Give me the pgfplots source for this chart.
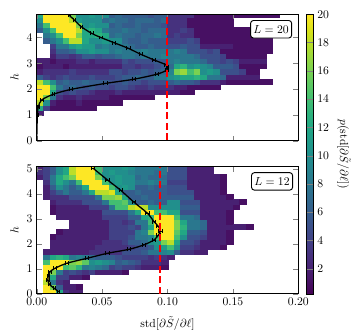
\documentclass[border=0pt]{standalone}
\usepackage{pgfplots}
\usepackage{pgfplotstable}
\pgfplotsset{compat=1.18}
\pgfdeclareplotmark{cellT}{\pgfpathrectangle{\pgfpoint{-2.85pt}{-2.25pt}}{\pgfpoint{5.7pt}{4.5pt}}\pgfusepathqfillstroke}
\pgfdeclareplotmark{cellB}{\pgfpathrectangle{\pgfpoint{-2.85pt}{-2.18pt}}{\pgfpoint{5.7pt}{4.36pt}}\pgfusepathqfillstroke}

% L = 20 histogram: h, then counts in x-bins of width 0.005 (x = 0 ... 0.185)
\pgfplotstableread[header=false]{
1.1 2 0 0 0 0 0 0 0 0 0 0 0 0 0 0 0 0 0 0 0 0 0 0 0 0 0 0 0 0 0 0 0 0 0 0 0 0
1.3 12 4 1 1 1 1 1 1 1 0 0 0 0 0 0 0 0 0 0 0 0 0 0 0 0 0 0 0 0 0 0 0 0 0 0 0 0
1.5 18 10 2 1 1 1 2 1 1 1 1 1 1 0 0 0 0 0 0 0 0 0 0 0 0 0 0 0 0 0 0 0 0 0 0 0 0
1.7 20 16 8 3 2 2 3 2 2 2 2 1 1 1 1 1 1 1 0 0 0 0 0 0 0 0 0 0 0 0 0 0 0 0 0 0 0
1.9 20 20 12 5 4 5 4 4 3 2 2 2 3 2 2 2 2 2 2 2 2 2 1 1 0 0 0 0 0 0 0 0 0 0 0 0 0
2.1 20 20 14 8 6 7 6 5 6 5 5 4 5 5 4 3 3 4 3 3 3 2 2 1 1 1 1 1 0 0 0 0 0 0 0 0 0
2.3 18 14 10 6 7 6 6 7 6 6 6 5 5 6 5 5 4 5 5 5 6 7 6 6 5 3 3 3 2 1 1 1 1 1 1 1 0
2.5 6 4 3 4 5 4 4 4 5 4 4 4 5 6 6 7 6 6 8 8 10 11 12 12 13 12 8 8 7 2 2 2 2 2 0 0 0
2.7 2 3 3 3 3 4 3 3 3 3 3 5 5 4 5 5 6 5 6 7 9 16 17 14 16 10 11 10 5 5 5 4 1 1 0 0 0
2.9 1 2 2 2 1 2 2 2 2 2 2 2 2 4 4 3 4 4 5 6 7 12 13 10 11 10 9 6 6 6 5 1 1 1 1 0 0
3.1 2 2 1 2 2 2 3 3 2 3 3 3 3 5 4 5 5 5 6 6 8 9 8 8 8 7 5 5 4 5 4 2 2 2 2 0 0
3.3 0 0 2 4 4 3 4 6 6 5 6 6 7 8 8 7 8 8 8 9 8 8 8 8 7 5 5 5 4 1 1 1 1 1 1 0 0
3.5 0 0 3 6 6 7 10 10 11 10 10 8 9 8 8 8 9 8 8 8 8 9 8 5 5 5 4 5 1 1 1 1 1 1 1 1 0
3.7 0 0 4 8 8 11 12 11 11 8 9 8 8 8 7 6 6 7 6 6 5 5 6 5 5 2 2 2 2 2 1 1 1 1 1 1 0
3.9 0 6 8 10 14 18 18 12 10 10 11 10 10 7 6 6 7 6 6 6 4 4 4 5 4 1 1 1 1 1 1 1 1 1 1 1 0
4.1 0 8 10 14 20 20 16 12 12 13 12 7 8 7 7 6 7 7 8 7 3 4 3 3 1 1 1 1 1 1 1 1 1 1 0 0 0
4.3 6 10 14 20 20 20 18 12 13 12 8 7 7 8 7 7 6 7 7 7 3 3 4 3 1 1 1 1 1 1 1 1 1 1 0 0 0
4.5 8 14 20 20 20 20 16 10 11 10 10 6 7 6 6 7 6 6 6 5 3 3 3 1 1 1 1 1 1 1 0 0 0 0 0 0 0
4.7 10 20 20 20 20 18 11 10 10 10 7 8 7 7 6 7 7 7 6 7 3 3 3 1 1 1 1 1 1 1 0 0 0 0 0 0 0
4.9 12 20 20 20 20 16 10 10 11 10 10 6 7 6 6 6 6 5 6 6 3 3 3 3 1 1 1 1 1 1 1 1 1 1 1 1 1
}\toptab

% L = 12 histogram
\pgfplotstableread[header=false]{
0.1 0 20 20 12 3 2 2 0 0 0 0 0 0 0 0 0 0 0 0 0 0 0 0 0 0 0 0 0 0 0 0 0 0 0 0 0 0
0.3 0 20 16 6 2 2 1 0 0 0 0 0 0 0 0 0 0 0 0 0 0 0 0 0 0 0 0 0 0 0 0 0 0 0 0 0 0
0.5 0 18 8 3 2 0 0 0 0 0 0 0 0 0 0 0 0 0 0 0 0 0 0 0 0 0 0 0 0 0 0 0 0 0 0 0 0
0.7 0 20 12 4 4 2 2 1 0 0 0 0 0 0 0 0 0 0 0 0 0 0 0 0 0 0 0 0 0 0 0 0 0 0 0 0 0
0.9 0 20 16 8 4 5 4 3 4 2 2 2 2 1 0 0 0 0 0 0 0 0 0 0 0 0 0 0 0 0 0 0 0 0 0 0 0
1.1 0 20 20 20 14 15 13 8 9 8 7 4 5 4 4 3 2 2 2 1 0 0 0 0 0 0 0 0 0 0 0 0 0 0 0 0 0
1.3 0 14 20 20 20 16 17 15 10 11 10 9 6 7 6 5 3 3 3 2 0 0 0 0 0 0 0 0 0 0 0 0 0 0 0 0 0
1.5 0 8 12 13 12 8 9 8 7 6 6 6 5 4 4 4 4 3 4 3 2 0 0 0 0 0 0 0 0 0 0 0 0 0 0 0 0
1.7 0 2 2 2 2 2 2 2 3 3 3 3 3 5 5 5 6 8 8 9 10 6 3 3 2 2 0 0 0 0 0 0 0 0 0 0 0
1.9 0 0 2 2 2 2 2 2 2 3 3 3 3 3 4 5 5 6 10 11 14 10 4 4 3 2 2 2 1 0 0 0 0 0 0 0 0
2.1 0 0 2 2 2 2 2 2 2 2 3 3 3 4 6 6 7 10 11 16 18 12 5 5 4 2 2 2 2 1 0 0 0 0 0 0 0
2.3 0 0 1 2 2 2 2 2 2 2 2 4 4 4 5 8 8 9 14 20 20 14 10 5 5 4 2 2 2 1 0 0 0 0 0 0 0
2.5 0 0 0 1 2 2 2 2 2 2 2 4 4 4 4 8 9 16 20 20 20 15 12 6 6 5 2 2 2 1 0 0 0 0 0 0 0
2.7 0 0 0 0 0 2 2 2 2 2 2 4 4 4 5 4 8 12 20 20 20 16 13 8 8 7 2 2 2 2 2 2 1 0 0 0 0
2.9 0 0 0 0 0 2 2 2 2 2 2 4 4 3 4 8 8 14 20 20 20 16 12 8 8 7 2 2 2 1 0 0 0 0 0 0 0
3.1 0 0 0 2 2 2 2 2 2 2 4 4 4 4 6 6 12 13 20 20 20 14 8 8 7 2 2 2 2 1 0 0 0 0 0 0 0
3.3 0 0 1 2 2 2 2 2 2 2 5 5 5 5 8 12 20 20 14 14 12 12 5 5 5 2 2 2 2 1 0 0 0 0 0 0 0
3.5 0 0 1 2 2 2 2 2 4 4 4 8 14 14 18 19 18 10 10 10 10 10 6 6 6 2 2 2 2 2 1 0 0 0 0 0 0
3.7 0 0 2 3 3 3 3 5 5 5 8 14 14 15 10 6 6 7 6 6 10 10 5 5 5 2 2 2 2 2 2 1 0 0 0 0 0
3.9 0 2 3 3 3 5 5 5 5 8 16 16 17 12 6 6 7 6 6 6 6 6 6 6 2 2 2 2 2 1 0 0 0 0 0 0 0
4.1 0 2 4 6 8 6 6 8 12 18 18 19 12 6 6 7 6 6 6 6 5 5 5 5 2 2 2 2 1 0 0 0 0 0 0 0 0
4.3 0 2 6 10 8 6 8 12 20 20 20 14 10 11 10 6 6 7 6 6 5 5 5 2 2 2 2 2 1 0 0 0 0 0 0 0 0
4.5 0 3 8 12 10 8 14 20 20 20 14 10 11 10 10 8 8 9 8 8 4 4 4 2 2 2 2 2 1 0 0 0 0 0 0 0 0
4.7 2 4 8 12 14 16 20 20 20 16 10 10 11 10 10 7 8 7 7 7 5 5 5 2 2 2 2 2 1 0 0 0 0 0 0 0 0
4.9 3 4 6 10 12 18 20 20 20 14 10 11 10 10 9 8 8 8 7 8 5 5 5 2 2 2 2 0 0 0 0 0 0 0 0 0 0
5.1 2 4 6 10 12 18 20 20 20 14 10 10 10 11 10 8 8 8 8 8 5 5 5 2 2 2 2 0 0 0 0 0 0 0 0 0 0
}\bottab

\pgfplotsset{
  baseaxis/.style={scale only axis, width=223.7pt, xmin=0, xmax=0.2,
    colormap/viridis, point meta min=0.2, point meta max=20},
  cellaxis/.style={baseaxis, hide axis, clip marker paths=true},
  mainaxis/.style={baseaxis, xtick={0,0.05,0.1,0.15,0.2},
    tick align=inside, tick pos=both, axis line style={line width=0.7pt}},
  cellplot/.style={scatter, only marks, point meta=explicit,
    scatter/use mapped color={draw=mapped color, fill=mapped color},
    mark options={line width=0.15pt}},
  curve/.style={black, line width=1.1pt, smooth, mark=none,
    error bars/.cd, x dir=both, x explicit, error mark=|,
    error bar style={line width=0.6pt},
    error mark options={line width=0.6pt, mark size=1.7pt}},
}

\begin{document}
\begin{tikzpicture}
\path[use as bounding box] (0,0) rectangle (302.7pt,-287.3pt);

% ---------- top panel (L = 20) ----------
\begin{axis}[cellaxis, at={(31.4pt,-12.2pt)}, anchor=north west,
  height=108.1pt, ymin=0, ymax=4.9]
\pgfplotsinvokeforeach{1,...,37}{
  \addplot[cellplot, mark=cellT]
    table[x expr={0.005*#1-0.0025},
          y expr={\thisrowno{#1}>0.5 ? \thisrowno{0} : nan},
          meta index=#1]{\toptab};
}
\end{axis}
\begin{axis}[mainaxis, name=top, at={(31.4pt,-12.2pt)}, anchor=north west,
  height=108.1pt, ymin=0, ymax=4.9, ytick={0,1,2,3,4},
  xticklabels={}, ylabel={$h$},
]
\addplot[curve] coordinates {
(0,0) +- (0,0)
(0.0005,1.0) +- (0.0008,0)
(0.0013,1.32) +- (0.001,0)
(0.0038,1.58) +- (0.001,0)
(0.0128,1.80) +- (0.001,0)
(0.0264,1.99) +- (0.0012,0)
(0.0525,2.22) +- (0.0012,0)
(0.074,2.38) +- (0.0012,0)
(0.092,2.58) +- (0.0012,0)
(0.0995,2.74) +- (0.001,0)
(0.1,2.87) +- (0.001,0)
(0.0985,2.95) +- (0.001,0)
(0.0897,3.13) +- (0.0012,0)
(0.0795,3.35) +- (0.0012,0)
(0.070,3.58) +- (0.0012,0)
(0.059,3.80) +- (0.0012,0)
(0.049,4.0) +- (0.0012,0)
(0.042,4.16) +- (0.001,0)
(0.034,4.42) +- (0.001,0)
(0.0287,4.68) +- (0.001,0)
(0.0248,4.86) +- (0.001,0)
};
\addplot[draw=red, line width=1.5pt, dash pattern=on 6pt off 3pt, forget plot] coordinates {(0.0998,0.02) (0.0998,4.88)};
\end{axis}
\node[draw, rounded corners=2.5pt, line width=0.8pt, fill=white, anchor=north east,
  inner sep=2.5pt, minimum height=15pt]
  at ([xshift=-5.3pt,yshift=-4.9pt]top.north east) {$L=20$};

% ---------- bottom panel (L = 12) ----------
\begin{axis}[cellaxis, at={(31.4pt,-142.5pt)}, anchor=north west,
  height=108.6pt, ymin=0, ymax=5.1]
\pgfplotsinvokeforeach{1,...,37}{
  \addplot[cellplot, mark=cellB]
    table[x expr={0.005*#1-0.0025},
          y expr={\thisrowno{#1}>0.5 ? \thisrowno{0} : nan},
          meta index=#1]{\bottab};
}
\end{axis}
\begin{axis}[mainaxis, name=bot, at={(31.4pt,-142.5pt)}, anchor=north west,
  height=108.6pt, ymin=0, ymax=5.1, ytick={0,1,2,3,4,5},
  ylabel={$h$}, xlabel={$\mathrm{std}[\partial\tilde{S}/\partial\ell]$},
  xlabel style={yshift=-2.5pt},
  xticklabel style={/pgf/number format/fixed, /pgf/number format/fixed zerofill,
    /pgf/number format/precision=2},
  colorbar,
  colorbar style={at={(1.032,2.2)}, anchor=north west, scale only axis,
    width=5.6pt, height=239.4pt, ytick={2,4,...,20},
    ylabel={$p(\mathrm{std}[\partial\tilde{S}/\partial\ell])$},
    ylabel style={rotate=180}},
]
\addplot[curve] coordinates {
(0.0166,0.08) +- (0.001,0)
(0.0135,0.21) +- (0.001,0)
(0.0097,0.37) +- (0.001,0)
(0.0085,0.55) +- (0.001,0)
(0.0088,0.72) +- (0.001,0)
(0.0102,0.88) +- (0.001,0)
(0.014,1.02) +- (0.001,0)
(0.023,1.22) +- (0.0012,0)
(0.0385,1.42) +- (0.0012,0)
(0.054,1.62) +- (0.0012,0)
(0.0705,1.78) +- (0.0012,0)
(0.082,1.96) +- (0.0012,0)
(0.0897,2.16) +- (0.0012,0)
(0.093,2.35) +- (0.0012,0)
(0.0945,2.52) +- (0.0012,0)
(0.093,2.7) +- (0.0012,0)
(0.0897,2.89) +- (0.0012,0)
(0.0846,3.23) +- (0.0012,0)
(0.074,3.69) +- (0.0012,0)
(0.064,4.16) +- (0.0012,0)
(0.054,4.57) +- (0.0012,0)
(0.043,5.04) +- (0.0012,0)
};
\addplot[draw=red, line width=1.5pt, dash pattern=on 6pt off 3pt, forget plot] coordinates {(0.094,0) (0.094,5.1)};
\end{axis}
\node[draw, rounded corners=2.5pt, line width=0.8pt, fill=white, anchor=north east,
  inner sep=2.5pt, minimum height=15pt]
  at ([xshift=-4.5pt,yshift=-4.7pt]bot.north east) {$L=12$};
\end{tikzpicture}
\end{document}
